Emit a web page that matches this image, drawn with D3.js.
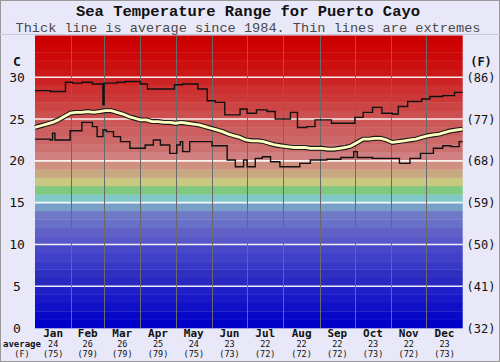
<!DOCTYPE html>
<html><head><meta charset="utf-8">
<script src="https://cdn.jsdelivr.net/npm/d3@7"></script>
<style>html,body{margin:0;padding:0;background:#e8e8f8;}svg{display:block;}</style>
</head><body>
<script>
// ---------- data ----------
const months = ["Jan","Feb","Mar","Apr","May","Jun","Jul","Aug","Sep","Oct","Nov","Dec"];
const daysInMonth = [31,28,31,30,31,30,31,31,30,31,30,31];
const monthAvgC = ["24","26","26","25","24","23","22","22","22","23","22","23"];
const monthAvgF = ["(75)","(79)","(79)","(79)","(75)","(73)","(72)","(72)","(72)","(73)","(72)","(73)"];
const tickC = [0,5,10,15,20,25,30];
const tickF = ["(32)","(41)","(50)","(59)","(68)","(77)","(86)"];
// average, one value every 5 days (day 0..365)
const avgStep = 5;
const avgTemp = [24.0,24.2,24.4,24.6,24.9,25.3,25.7,25.8,25.8,25.9,25.8,25.9,26.0,26.0,25.8,25.6,
  25.3,25.1,24.9,24.9,24.7,24.7,24.6,24.6,24.5,24.6,24.5,24.4,24.3,24.1,23.9,23.7,23.5,23.2,23.0,
  22.8,22.5,22.4,22.4,22.3,22.1,21.9,21.8,21.7,21.6,21.6,21.6,21.5,21.5,21.5,21.4,21.4,21.5,21.6,
  21.8,22.2,22.6,22.6,22.7,22.7,22.5,22.2,22.3,22.4,22.5,22.6,22.8,23.0,23.1,23.2,23.4,23.6,23.7,23.8];
// extremes as [start day, value] steps
const maxSteps = [[0,28.4],[13,28.3],[26,29.4],[32,29.3],[40,29.4],[49,29.2],[58,26.7],[59,29.3],
  [70,29.4],[77,29.5],[90,29.2],[96,28.6],[119,29.1],[126,29.2],[139,28.6],[147,27.2],[154,27.0],
  [162,25.5],[175,26.2],[181,25.7],[189,26.1],[198,25.9],[205,25.0],[218,25.8],[224,24.0],[232,24.1],
  [239,24.9],[253,24.5],[273,25.2],[280,25.8],[288,26.4],[296,25.7],[305,25.6],[310,26.5],[318,27.1],
  [330,27.4],[337,27.7],[348,27.8],[358,28.2]];
const minSteps = [[0,22.6],[13,22.5],[15,23.3],[17,22.5],[30,23.6],[40,24.6],[49,24.1],[53,22.9],
  [58,23.7],[61,23.5],[67,22.9],[73,22.3],[81,21.5],[94,21.9],[101,22.5],[107,21.9],[115,20.9],
  [121,21.9],[124,22.3],[126,21.1],[132,22.3],[151,21.8],[164,20.1],[171,19.3],[178,20.1],[181,19.3],
  [188,20.3],[194,20.5],[201,19.9],[209,19.3],[226,19.7],[235,20.1],[249,20.2],[261,20.4],[272,21.1],
  [275,20.4],[288,20.3],[311,19.7],[320,20.3],[329,20.9],[340,21.5],[348,21.8],[355,21.7],[362,22.3]];

// ---------- styles ----------
const bandColors = ["#0000c8","#0808c8","#1010c8","#1818c8","#2020c8","#2828c0","#3030c0","#3838c8",
  "#4040c8","#4848c8","#5858c8","#6060c8","#6870c8","#7078c8","#78a0c8","#80c8c8","#80c880","#c8c880",
  "#c8a880","#d09080","#d08080","#cc7070","#cc6868","#cc6060","#cc5858","#cc5050","#cc4444","#cc3838",
  "#cc3030","#cc2424","#cc1818","#cc1010","#cc0808","#cc0404","#cc0000"];

const W = 500, H = 362;
const svg = d3.select("body").append("svg").attr("width", W).attr("height", H);
svg.append("rect").attr("x",0.5).attr("y",0.5).attr("width",W-1).attr("height",H-1)
  .attr("fill","#e8e8f8").attr("stroke","#999");
svg.append("line").attr("x1",0).attr("x2",W).attr("y1",34.5).attr("y2",34.5).attr("stroke","#c8c8d8");

const x = d3.scaleLinear().domain([0,365]).range([35,462.7]);
const y = d3.scaleLinear().domain([0,35]).range([328,35.5]);

// bands
svg.append("g").selectAll("rect").data(d3.range(35)).join("rect")
  .attr("x", x(0)).attr("width", x(365)-x(0))
  .attr("y", d => y(d+1)).attr("height", d => y(d)-y(d+1)+0.3)
  .attr("fill", d => bandColors[d]);

// horizontal white grid
svg.append("g").selectAll("line").data(tickC.filter(t => t>0)).join("line")
  .attr("x1", x(0)).attr("x2", x(365))
  .attr("y1", d => y(d)).attr("y2", d => y(d))
  .attr("stroke","#fff").attr("stroke-width",1.6).attr("stroke-opacity",0.9);

// month boundaries
const monthStart = d3.cumsum([0, ...daysInMonth]);
svg.append("g").selectAll("line").data(monthStart.slice(1,12)).join("line")
  .attr("x1", d => Math.round(x(d))+0.5).attr("x2", d => Math.round(x(d))+0.5)
  .attr("y1", y(35)).attr("y2", y(0))
  .attr("stroke","#6a6a6a").attr("stroke-width",1);

// lines
function stepPts(steps){ const p = steps.map(s => [s[0], s[1]]); p.push([365, steps[steps.length-1][1]]); return p; }
const stepLine = d3.line().x(d => x(d[0])).y(d => y(d[1])).curve(d3.curveStepAfter);
[maxSteps, minSteps].forEach(s => {
  svg.append("path").attr("d", stepLine(stepPts(s))).attr("fill","none")
    .attr("stroke","#111").attr("stroke-width",1.4);
});
const avgLine = d3.line().x((d,i) => x(i*avgStep)).y(d => y(d));
svg.append("path").attr("d", avgLine(avgTemp)).attr("fill","none").attr("stroke","#1a1a1a")
  .attr("stroke-width",5).attr("stroke-linejoin","round");
svg.append("path").attr("d", avgLine(avgTemp)).attr("fill","none").attr("stroke","#ffffc0")
  .attr("stroke-width",2.8).attr("stroke-linejoin","round");

// titles
const mono = "'DejaVu Sans Mono', monospace";
svg.append("text").attr("x",248).attr("y",15.5).attr("text-anchor","middle")
  .attr("font-family","'Liberation Mono', monospace").attr("font-weight","bold").attr("font-size",15.5)
  .attr("fill","#111").text("Sea Temperature Range for Puerto Cayo");
svg.append("text").attr("x",248).attr("y",31.5).attr("text-anchor","middle")
  .attr("font-family","'Liberation Mono', monospace").attr("font-size",13.6)
  .attr("fill","#4a4a4a").text("Thick line is average since 1984. Thin lines are extremes");

// axis labels
svg.append("text").attr("x",17).attr("y",66).attr("text-anchor","middle").attr("font-family",mono)
  .attr("font-weight","bold").attr("font-size",13).attr("fill","#111").text("C");
svg.append("text").attr("x",481).attr("y",66).attr("text-anchor","middle").attr("font-family",mono)
  .attr("font-weight","bold").attr("font-size",12).attr("fill","#111").text("(F)");
svg.append("g").selectAll("text").data(tickC).join("text")
  .attr("x",17).attr("y", d => y(d)+4.5).attr("text-anchor","middle")
  .attr("font-family",mono).attr("font-size",13).attr("fill","#111").text(d => d);
svg.append("g").selectAll("text").data(tickF).join("text")
  .attr("x",481).attr("y", (d,i) => y(tickC[i])+4.5).attr("text-anchor","middle")
  .attr("font-family",mono).attr("font-size",12).attr("fill","#111").text(d => d);

// month labels
const mid = i => x(monthStart[i] + daysInMonth[i]/2);
const gm = svg.append("g").attr("text-anchor","middle").attr("font-family",mono).attr("fill","#111");
gm.selectAll(".m").data(months).join("text").attr("class","m")
  .attr("x",(d,i)=>mid(i)).attr("y",337).attr("font-size",11).attr("font-weight","bold").text(d=>d);
gm.selectAll(".c").data(monthAvgC).join("text").attr("class","c")
  .attr("x",(d,i)=>mid(i)).attr("y",347).attr("font-size",8.5).text(d=>d);
gm.selectAll(".f").data(monthAvgF).join("text").attr("class","f")
  .attr("x",(d,i)=>mid(i)).attr("y",356.5).attr("font-size",8.5).text(d=>d);
svg.append("text").attr("x",22).attr("y",347).attr("text-anchor","middle").attr("font-family",mono)
  .attr("font-size",9).attr("font-weight","bold").attr("fill","#111").text("average");
svg.append("text").attr("x",22).attr("y",356.5).attr("text-anchor","middle").attr("font-family",mono)
  .attr("font-size",8.5).attr("fill","#111").text("(F)");
</script>
</body></html>
